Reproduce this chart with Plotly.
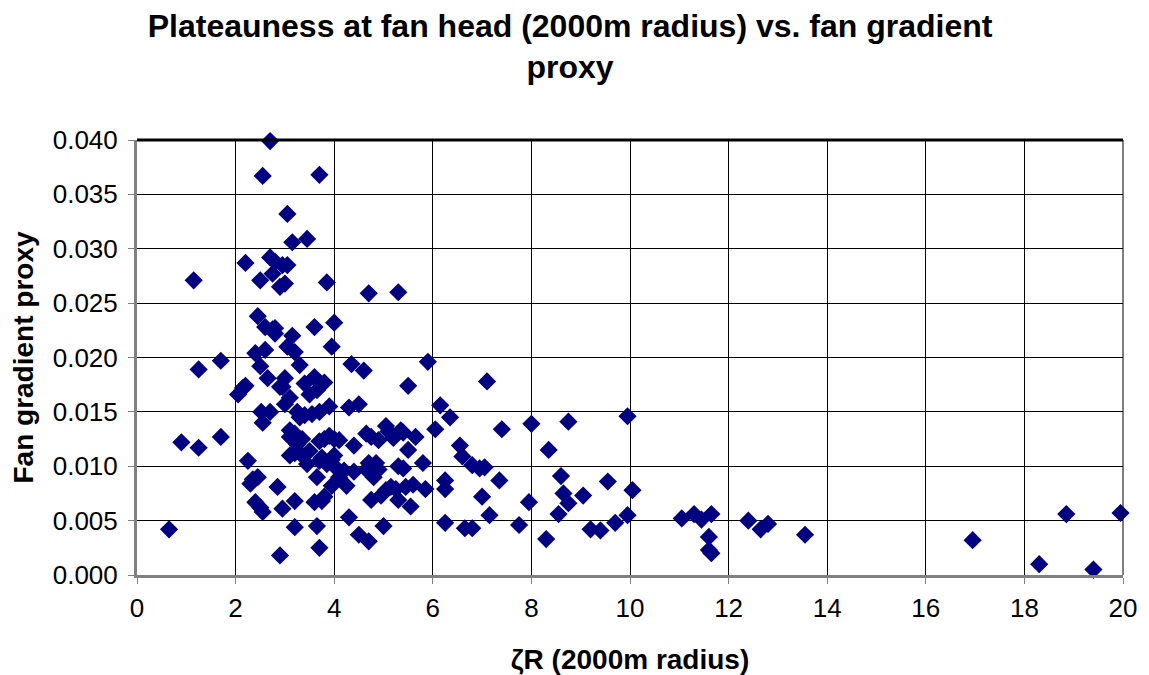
import plotly.graph_objects as go

zeta_r = [
    0.65, 0.9, 1.15, 1.25, 1.25, 1.7, 1.7, 2.05, 2.15, 2.2, 2.2, 2.25, 2.3, 2.35, 2.4, 2.4,
    2.45, 2.45, 2.5, 2.5, 2.5, 2.52, 2.55, 2.55, 2.55, 2.6, 2.6, 2.65, 2.7, 2.7, 2.7, 2.75,
    2.75, 2.8, 2.8, 2.8, 2.85, 2.9, 2.9, 2.9, 2.95, 2.95, 2.95, 3.0, 3.0, 3.0, 3.05, 3.05,
    3.05, 3.1, 3.1, 3.1, 3.1, 3.15, 3.15, 3.2, 3.2, 3.2, 3.2, 3.2, 3.25, 3.25, 3.3, 3.3,
    3.35, 3.35, 3.4, 3.4, 3.45, 3.45, 3.5, 3.5, 3.55, 3.6, 3.6, 3.6, 3.65, 3.65, 3.65, 3.7,
    3.7, 3.7, 3.7, 3.7, 3.7, 3.75, 3.75, 3.8, 3.8, 3.8, 3.85, 3.85, 3.9, 3.9, 3.95, 3.95,
    3.95, 4.0, 4.0, 4.0, 4.05, 4.1, 4.1, 4.2, 4.25, 4.3, 4.3, 4.35, 4.4, 4.4, 4.5, 4.5,
    4.6, 4.65, 4.65, 4.7, 4.7, 4.7, 4.75, 4.75, 4.8, 4.85, 4.9, 4.9, 4.95, 5.0, 5.05, 5.05,
    5.1, 5.15, 5.2, 5.25, 5.3, 5.3, 5.3, 5.35, 5.4, 5.4, 5.45, 5.5, 5.5, 5.55, 5.6, 5.65,
    5.8, 5.85, 5.9, 6.05, 6.15, 6.25, 6.25, 6.25, 6.35, 6.55, 6.6, 6.65, 6.8, 6.8, 6.95, 7.0,
    7.05, 7.1, 7.15, 7.35, 7.4, 7.75, 7.95, 8.0, 8.3, 8.35, 8.55, 8.6, 8.65, 8.75, 8.75, 9.05,
    9.2, 9.4, 9.55, 9.7, 9.95, 9.95, 10.05, 11.05, 11.3, 11.45, 11.6, 11.6, 11.65, 11.65, 12.4, 12.65,
    12.8, 13.55, 16.95, 18.3, 18.85, 19.4, 19.95,
]
fan_gradient = [
    0.0042, 0.0122, 0.0271, 0.0117, 0.0189, 0.0127, 0.0197, 0.0166, 0.0172, 0.0174, 0.0287, 0.0105, 0.0084, 0.0088, 0.0067, 0.0204,
    0.0238, 0.0090, 0.0062, 0.0271, 0.0192, 0.0150, 0.0367, 0.0058, 0.0140, 0.0207, 0.0228, 0.0181, 0.0399, 0.0150, 0.0292, 0.0226,
    0.0277, 0.0227, 0.0222, 0.0288, 0.0081, 0.0265, 0.0173, 0.0018, 0.0285, 0.0173, 0.0061, 0.0181, 0.0268, 0.0157, 0.0285, 0.0332,
    0.0210, 0.0163, 0.0133, 0.0127, 0.0110, 0.0306, 0.0220, 0.0205, 0.0130, 0.0112, 0.0068, 0.0044, 0.0150, 0.0120, 0.0193, 0.0145,
    0.0125, 0.0110, 0.0176, 0.0147, 0.0309, 0.0102, 0.0166, 0.0114, 0.0148, 0.0228, 0.0182, 0.0067, 0.0170, 0.0090, 0.0045, 0.0368,
    0.0177, 0.0150, 0.0123, 0.0105, 0.0025, 0.0108, 0.0068, 0.0177, 0.0125, 0.0072, 0.0269, 0.0102, 0.0155, 0.0128, 0.0210, 0.0106,
    0.0082, 0.0232, 0.0125, 0.0110, 0.0098, 0.0124, 0.0090, 0.0096, 0.0082, 0.0154, 0.0053, 0.0194, 0.0119, 0.0095, 0.0157, 0.0037,
    0.0188, 0.0130, 0.0097, 0.0259, 0.0103, 0.0031, 0.0127, 0.0069, 0.0090, 0.0103, 0.0124, 0.0097, 0.0073, 0.0045, 0.0137, 0.0078,
    0.0132, 0.0081, 0.0126, 0.0079, 0.0260, 0.0100, 0.0069, 0.0133, 0.0131, 0.0098, 0.0081, 0.0174, 0.0115, 0.0063, 0.0083, 0.0127,
    0.0103, 0.0079, 0.0196, 0.0134, 0.0156, 0.0087, 0.0048, 0.0079, 0.0145, 0.0119, 0.0109, 0.0043, 0.0043, 0.0101, 0.0098, 0.0072,
    0.0099, 0.0178, 0.0055, 0.0087, 0.0134, 0.0046, 0.0067, 0.0139, 0.0033, 0.0115, 0.0056, 0.0091, 0.0075, 0.0141, 0.0066, 0.0073,
    0.0042, 0.0041, 0.0086, 0.0048, 0.0055, 0.0146, 0.0078, 0.0052, 0.0056, 0.0051, 0.0035, 0.0023, 0.0020, 0.0056, 0.0050, 0.0042,
    0.0047, 0.0037, 0.0032, 0.0010, 0.0056, 0.0005, 0.0057,
]

x_ticks = list(range(0, 21, 2))
y_ticks = [0.000, 0.005, 0.010, 0.015, 0.020, 0.025, 0.030, 0.035, 0.040]

FONT = "Liberation Sans, Arial, sans-serif"

fig = go.Figure()
fig.add_trace(go.Scatter(
    x=zeta_r, y=fan_gradient, mode="markers",
    marker=dict(symbol="diamond", size=14, color="#000080", line=dict(width=0)),
    showlegend=False, cliponaxis=False,
))

fig.update_layout(
    width=1141, height=667,
    paper_bgcolor="white", plot_bgcolor="white",
    margin=dict(l=129, r=26, t=132, b=100, autoexpand=False),
    font=dict(family=FONT, color="black", size=26),
    title=dict(
        text="<b>Plateauness at fan head (2000m radius) vs. fan gradient<br>proxy</b>",
        x=0.4926, xref="container", xanchor="center",
        y=0.957, yref="container", yanchor="top",
        font=dict(family=FONT, size=32, color="black"),
    ),
    xaxis=dict(
        range=[0, 20], tickvals=x_ticks, ticktext=[str(v) for v in x_ticks],
        showgrid=True, gridcolor="black", gridwidth=1,
        showline=True, linecolor="#808080", linewidth=3, mirror=False,
        ticks="outside", ticklen=6, tickcolor="#808080",
        ticklabelstandoff=2, automargin=False,
        zeroline=False,
        title=dict(text="<b>ζR (2000m radius)</b>", font=dict(family=FONT, size=28), standoff=30),
        tickfont=dict(size=26),
    ),
    yaxis=dict(
        range=[0, 0.040], tickvals=y_ticks, ticktext=[f"{v:.3f}" for v in y_ticks],
        showgrid=True, gridcolor="black", gridwidth=1,
        showline=True, linecolor="#808080", linewidth=3,
        ticks="outside", ticklen=6, tickcolor="#808080",
        ticklabelstandoff=5, automargin=False,
        zeroline=False,
        title=dict(text="<b>Fan gradient proxy</b>", font=dict(family=FONT, size=28), standoff=12),
        tickfont=dict(size=26),
    ),
    shapes=[
        dict(type="line", xref="paper", yref="paper", x0=0, x1=1, y0=1, y1=1,
             line=dict(color="black", width=3)),
        dict(type="line", xref="paper", yref="paper", x0=1, x1=1, y0=0, y1=1,
             line=dict(color="black", width=1)),
    ],
)

fig.write_html("out.html")
